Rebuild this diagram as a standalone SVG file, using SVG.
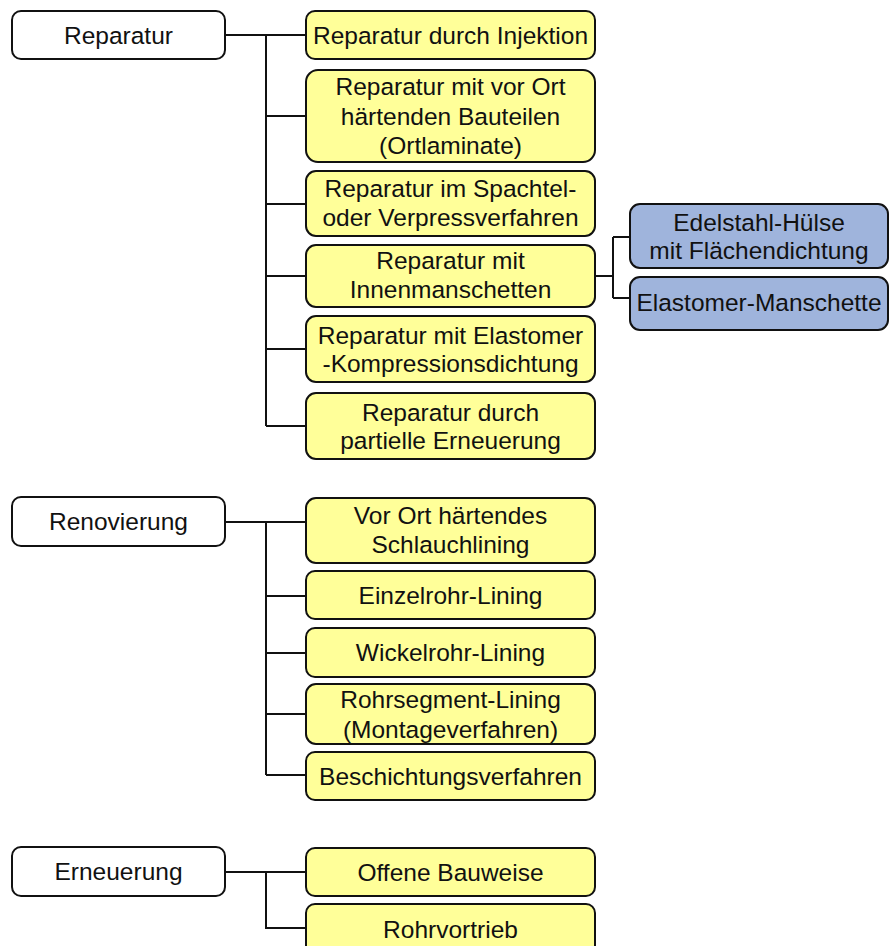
<svg xmlns="http://www.w3.org/2000/svg" width="890" height="946" viewBox="0 0 890 946">
  <style>
    .box { stroke: #111; stroke-width: 2; }
    .root { fill: #ffffff; }
    .leaf { fill: #ffff99; }
    .sub { fill: #9fb4dc; }
    .lbl { font-family: "Liberation Sans", Arial, sans-serif; font-size: 24.5px; fill: #111; text-anchor: middle; }
    .wire { fill: none; stroke: #111; stroke-width: 2; }
  </style>

  <!-- connectors -->
  <g id="connectors">
    <path class="wire" d="M225 35 H306 M266 35 V426 M266 116 H306 M266 204 H306 M266 276 H306 M266 349 H306 M266 426 H306"/>
    <path class="wire" d="M595 276 H613 M613 237 V298 M613 237 H630 M613 298 H630"/>
    <path class="wire" d="M225 522 H306 M266 522 V775 M266 596 H306 M266 653 H306 M266 714 H306 M266 775 H306"/>
    <path class="wire" d="M225 872 H306 M266 872 V928 H306"/>
  </g>

  <!-- Reparatur -->
  <g id="reparatur">
    <rect class="box root" x="12" y="11" width="213" height="48" rx="9"/>
    <text class="lbl" x="118.5" y="44">Reparatur</text>
  </g>
  <g id="rep-injektion">
    <rect class="box leaf" x="306" y="11" width="289" height="48" rx="9"/>
    <text class="lbl" x="450.5" y="44">Reparatur durch Injektion</text>
  </g>
  <g id="rep-ortlaminate">
    <rect class="box leaf" x="306" y="70" width="289" height="92" rx="12"/>
    <text class="lbl" x="450.5" y="95">Reparatur mit vor Ort</text>
    <text class="lbl" x="450.5" y="125">härtenden Bauteilen</text>
    <text class="lbl" x="450.5" y="154">(Ortlaminate)</text>
  </g>
  <g id="rep-spachtel">
    <rect class="box leaf" x="306" y="171" width="289" height="65" rx="10"/>
    <text class="lbl" x="450.5" y="197">Reparatur im Spachtel-</text>
    <text class="lbl" x="450.5" y="226">oder Verpressverfahren</text>
  </g>
  <g id="rep-innenmanschetten">
    <rect class="box leaf" x="306" y="245" width="289" height="62" rx="10"/>
    <text class="lbl" x="450.5" y="269">Reparatur mit</text>
    <text class="lbl" x="450.5" y="298">Innenmanschetten</text>
  </g>
  <g id="rep-elastomer">
    <rect class="box leaf" x="306" y="316" width="289" height="66" rx="10"/>
    <text class="lbl" x="450.5" y="344">Reparatur mit Elastomer</text>
    <text class="lbl" x="450.5" y="372">-Kompressionsdichtung</text>
  </g>
  <g id="rep-partiell">
    <rect class="box leaf" x="306" y="393" width="289" height="66" rx="10"/>
    <text class="lbl" x="450.5" y="421">Reparatur durch</text>
    <text class="lbl" x="450.5" y="449">partielle Erneuerung</text>
  </g>
  <g id="huelse">
    <rect class="box sub" x="630" y="204" width="258" height="64" rx="10"/>
    <text class="lbl" x="759" y="231">Edelstahl-Hülse</text>
    <text class="lbl" x="759" y="259">mit Flächendichtung</text>
  </g>
  <g id="manschette">
    <rect class="box sub" x="630" y="277" width="258" height="53" rx="10"/>
    <text class="lbl" x="759" y="311">Elastomer-Manschette</text>
  </g>

  <!-- Renovierung -->
  <g id="renovierung">
    <rect class="box root" x="12" y="497" width="213" height="49" rx="9"/>
    <text class="lbl" x="118.5" y="530">Renovierung</text>
  </g>
  <g id="ren-schlauch">
    <rect class="box leaf" x="306" y="498" width="289" height="65" rx="10"/>
    <text class="lbl" x="450.5" y="524">Vor Ort härtendes</text>
    <text class="lbl" x="450.5" y="553">Schlauchlining</text>
  </g>
  <g id="ren-einzelrohr">
    <rect class="box leaf" x="306" y="571" width="289" height="48" rx="9"/>
    <text class="lbl" x="450.5" y="604">Einzelrohr-Lining</text>
  </g>
  <g id="ren-wickelrohr">
    <rect class="box leaf" x="306" y="628" width="289" height="49" rx="9"/>
    <text class="lbl" x="450.5" y="661">Wickelrohr-Lining</text>
  </g>
  <g id="ren-rohrsegment">
    <rect class="box leaf" x="306" y="684" width="289" height="60" rx="10"/>
    <text class="lbl" x="450.5" y="708">Rohrsegment-Lining</text>
    <text class="lbl" x="450.5" y="738">(Montageverfahren)</text>
  </g>
  <g id="ren-beschichtung">
    <rect class="box leaf" x="306" y="752" width="289" height="48" rx="9"/>
    <text class="lbl" x="450.5" y="785">Beschichtungsverfahren</text>
  </g>

  <!-- Erneuerung -->
  <g id="erneuerung">
    <rect class="box root" x="12" y="847" width="213" height="49" rx="9"/>
    <text class="lbl" x="118.5" y="880">Erneuerung</text>
  </g>
  <g id="ern-offen">
    <rect class="box leaf" x="306" y="848" width="289" height="48" rx="9"/>
    <text class="lbl" x="450.5" y="881">Offene Bauweise</text>
  </g>
  <g id="ern-rohrvortrieb">
    <rect class="box leaf" x="306" y="904" width="289" height="52" rx="9"/>
    <text class="lbl" x="450.5" y="938">Rohrvortrieb</text>
  </g>
</svg>
